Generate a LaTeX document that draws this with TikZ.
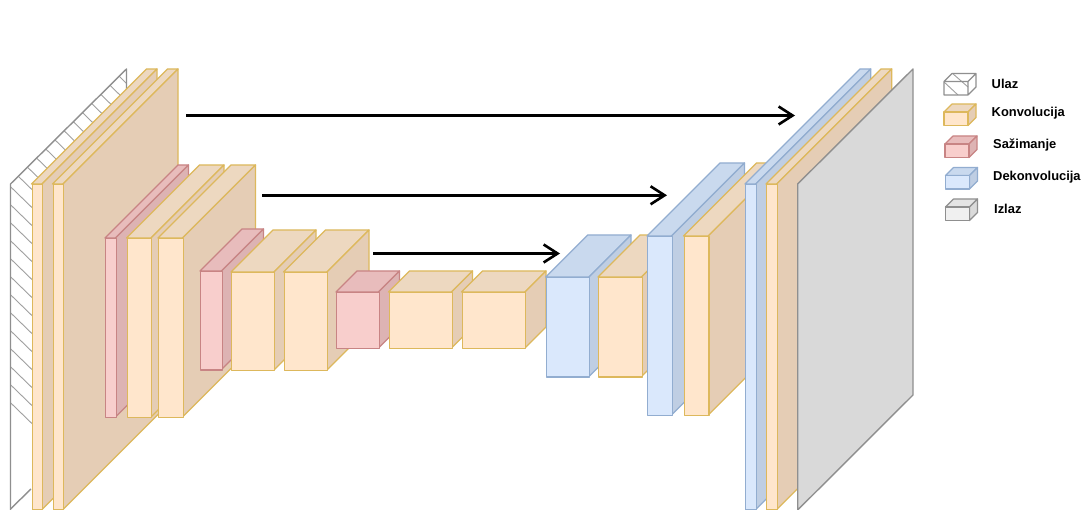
\documentclass[tikz,border=0pt]{standalone}
\usepackage{fontspec}
\setmainfont{Liberation Sans}
\usetikzlibrary{arrows.meta}
\definecolor{cF}{HTML}{FFE6CC}\definecolor{cT}{HTML}{EDD8C0}\definecolor{cS}{HTML}{E5CDB5}\definecolor{cL}{HTML}{DDB85C}
\definecolor{pF}{HTML}{F8CECC}\definecolor{pT}{HTML}{E8BCBC}\definecolor{pS}{HTML}{DDB3B3}\definecolor{pL}{HTML}{C88484}
\definecolor{bF}{HTML}{DAE8FC}\definecolor{bT}{HTML}{C9D9EE}\definecolor{bS}{HTML}{BFCEE3}\definecolor{bL}{HTML}{92ADD0}
\definecolor{gF}{HTML}{D9D9D9}\definecolor{gL}{HTML}{8F8F8F}
\definecolor{lF}{HTML}{F0F0F0}\definecolor{lT}{HTML}{E4E4E4}\definecolor{lS}{HTML}{DADADA}
\newcommand{\cubebox}[7]{%
 \draw[boxline,draw=#7L,fill=#7T] (#2,#4) -- ++(#6,-#6) -- ++(#3-#2,0) -- (#3,#4) -- cycle;
 \draw[boxline,draw=#7L,fill=#7S] (#3,#4) -- ++(#6,-#6) -- ++(0,#5-#4) -- (#3,#5) -- cycle;
 \node[boxline,draw=#7L,fill=#7F,minimum width=#3pt-#2pt,minimum height=#5pt-#4pt,inner sep=0pt,anchor=north west] (#1) at (#2,#4) {};
}
\tikzset{
 boxline/.style={line width=1.3pt,line join=round},
 arr/.style={line width=2.6pt,-{Straight Barb[length=14pt,width=18pt,line width=2.6pt]}},
 lab/.style={anchor=west,inner sep=0pt,font=\bfseries\fontsize{12.9}{14}\selectfont,text=black},
 hatch/.style={draw=gL!85!white,line width=0.9pt},
 plane/.style={line width=1.4pt,line join=round},
 legbox/.style={line width=1.2pt,line join=round}
}
\begin{document}
\begin{tikzpicture}[x=1pt,y=-1pt]
\useasboundingbox[fill=white] (0,0) rectangle (1085,510);
\begin{scope}
\clip (0,0) rectangle (1085,510);
% input plane
\begin{scope}
\clip (10.5,184) -- (126.5,69) -- (126.5,395) -- (10.5,510) -- cycle;
\foreach \k in {-12,...,24}{
  \draw[hatch] (0,{176.5-\k*18}) -- ++(140,136);
}
\end{scope}
\draw[plane,draw=gL] (10.5,510) -- (10.5,184) -- (126.5,69) -- (126.5,125);
\draw[plane,draw=gL] (10.5,509) -- (31,489);
% encoder
\cubebox{c1}{31.5}{42}{184}{509.5}{115}{c}
\cubebox{c2}{52.5}{63}{184}{509.5}{115}{c}
\cubebox{p1}{105}{115.5}{238}{417}{73}{p}
\cubebox{c3}{126.5}{151}{238}{417}{73}{c}
\cubebox{c4}{158}{182.5}{238}{417}{73}{c}
\cubebox{p2}{200}{221.5}{271}{369.5}{42}{p}
\cubebox{c5}{231}{274}{272}{370}{42}{c}
\cubebox{c6}{283.5}{327}{272}{370}{42}{c}
\cubebox{p3}{336}{378.5}{292}{348}{21}{p}
\cubebox{c7}{388.5}{451.5}{292}{348}{21}{c}
\cubebox{c8}{461.5}{525}{292}{348}{21}{c}
% decoder
\cubebox{b1}{545.7}{589}{277}{376.5}{42}{b}
\cubebox{c9}{598}{641.5}{277}{376.5}{42}{c}
\cubebox{b2}{647}{671.5}{236}{415}{73}{b}
\cubebox{c10}{683.5}{708.3}{236}{415}{73}{c}
\cubebox{b3}{745}{755.7}{184}{509.5}{115}{b}
\cubebox{c11}{766}{776.7}{184}{509.5}{115}{c}
\draw[plane,draw=gL,fill=gF] (797.7,184) -- (913,69) -- (913,395) -- (797.7,510) -- cycle;
\end{scope}
% skip connections
\coordinate (a1s) at (186,115.5); \coordinate (a1e) at (795,115.5);
\coordinate (a2s) at (262,195.3); \coordinate (a2e) at (667,195.3);
\coordinate (a3s) at (373,253.5); \coordinate (a3e) at (560,253.5);
\draw[arr] (a1s) -- (a1e);
\draw[arr] (a2s) -- (a2e);
\draw[arr] (a3s) -- (a3e);
% legend
\begin{scope}
\clip (944,81.5) -- (952,73.5) -- (976,73.5) -- (976,87) -- (968,95) -- (944,95) -- cycle;
\draw[hatch] (944,82) -- (958,95);
\draw[hatch] (952,73) -- (968,87);
\end{scope}
\draw[legbox,draw=gL] (944,81.5) -- (952,73.5) -- (976,73.5) -- (976,87) -- (968,95) -- (944,95) -- cycle (944,81.5) -- (968,81.5) -- (968,95) (968,81.5) -- (976,73.5);
\foreach \yy/\cc/\xx in {112/c/944,144/p/945,175.5/b/945.5}{
 \draw[legbox,draw=\cc L,fill=\cc T] (\xx,\yy) -- ++(8,-8) -- ++(24,0) -- ++(-8,8) -- cycle;
 \draw[legbox,draw=\cc L,fill=\cc S] (\xx+24,\yy) -- ++(8,-8) -- ++(0,13.5) -- ++(-8,8) -- cycle;
 \draw[legbox,draw=\cc L,fill=\cc F] (\xx,\yy) rectangle ++(24,13.5);
}
\draw[legbox,draw=gL,fill=lT] (945.5,207) -- ++(8,-8) -- ++(24,0) -- ++(-8,8) -- cycle;
\draw[legbox,draw=gL,fill=lS] (969.5,207) -- ++(8,-8) -- ++(0,13.5) -- ++(-8,8) -- cycle;
\draw[legbox,draw=gL,fill=lF] (945.5,207) rectangle ++(24,13.5);
\node[lab] (l1) at (991.5,84) {Ulaz};
\node[lab] (l2) at (991.5,113) {Konvolucija};
\node[lab] (l3) at (993,145) {Sažimanje};
\node[lab] (l4) at (993,177) {Dekonvolucija};
\node[lab] (l5) at (994,209) {Izlaz};
\end{tikzpicture}
\end{document}
